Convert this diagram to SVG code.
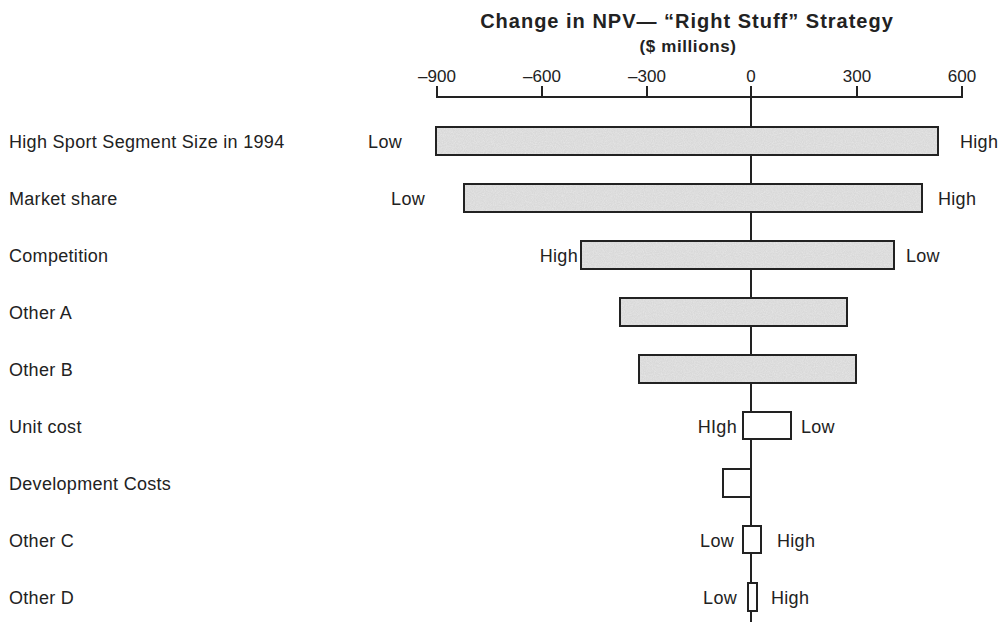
<svg xmlns="http://www.w3.org/2000/svg" width="1002" height="622" viewBox="0 0 1002 622">
  <style>
    .t { font-family: "Liberation Sans", Arial, sans-serif; fill: #222; }
    .title { font-size: 20px; font-weight: bold; letter-spacing: 1px; }
    .sub { font-size: 17px; font-weight: bold; letter-spacing: 0.6px; }
    .tick { font-size: 17px; }
    .lab { font-size: 18px; letter-spacing: 0.3px; }
    .axis { stroke: #222; stroke-width: 2; fill: none; }
    .bar { fill: #d9d9d9; filter: url(#grain); }
    .edge { fill: none; stroke: #222; stroke-width: 2; }
    .box { fill: #fff; stroke: #222; stroke-width: 2; }
  </style>
  <defs>
    <!-- fine screen-tone speckle for the shaded bars -->
    <filter id="grain" x="0" y="0" width="100%" height="100%">
      <feTurbulence type="fractalNoise" baseFrequency="0.9" numOctaves="2" seed="3" result="noise"/>
      <feColorMatrix in="noise" type="matrix"
        values="0 0 0 0 1  0 0 0 0 1  0 0 0 0 1  0 0 0 0.5 -0.15" result="speck"/>
      <feComposite in="speck" in2="SourceGraphic" operator="in" result="clip"/>
      <feMerge>
        <feMergeNode in="SourceGraphic"/>
        <feMergeNode in="clip"/>
      </feMerge>
    </filter>
  </defs>

  <!-- title -->
  <text class="t title" x="687" y="28" text-anchor="middle">Change in NPV— “Right Stuff” Strategy</text>
  <text class="t sub" x="688" y="52" text-anchor="middle">($ millions)</text>

  <!-- axis and ticks -->
  <g id="axis">
    <line class="axis" x1="437" y1="97" x2="962" y2="97"/>
    <line class="axis" x1="437" y1="86" x2="437" y2="98"/>
    <line class="axis" x1="542" y1="86" x2="542" y2="98"/>
    <line class="axis" x1="647" y1="86" x2="647" y2="98"/>
    <line class="axis" x1="751" y1="86" x2="751" y2="98"/>
    <line class="axis" x1="857" y1="86" x2="857" y2="98"/>
    <line class="axis" x1="962" y1="86" x2="962" y2="98"/>
    <text class="t tick" x="437" y="82" text-anchor="middle">–900</text>
    <text class="t tick" x="542" y="82" text-anchor="middle">–600</text>
    <text class="t tick" x="647" y="82" text-anchor="middle">–300</text>
    <text class="t tick" x="751" y="82" text-anchor="middle">0</text>
    <text class="t tick" x="857" y="82" text-anchor="middle">300</text>
    <text class="t tick" x="962" y="82" text-anchor="middle">600</text>
  </g>

  <!-- zero baseline -->
  <g id="connectors">
    <line class="axis" x1="751" y1="97" x2="751" y2="622"/>
  </g>

  <!-- row labels -->
  <g id="labels">
    <text class="t lab" x="9" y="148">High Sport Segment Size in 1994</text>
    <text class="t lab" x="9" y="205">Market share</text>
    <text class="t lab" x="9" y="262">Competition</text>
    <text class="t lab" x="9" y="319">Other A</text>
    <text class="t lab" x="9" y="376">Other B</text>
    <text class="t lab" x="9" y="433">Unit cost</text>
    <text class="t lab" x="9" y="490">Development Costs</text>
    <text class="t lab" x="9" y="547">Other C</text>
    <text class="t lab" x="9" y="604">Other D</text>
  </g>

  <g id="bar-segment-size">
    <rect class="bar" x="436" y="127" width="502" height="28"/>
    <rect class="edge" x="436" y="127" width="502" height="28"/>
    <text class="t lab" x="402" y="148" text-anchor="end">Low</text>
    <text class="t lab" x="960" y="148">High</text>
  </g>
  <g id="bar-market-share">
    <rect class="bar" x="464" y="184" width="458" height="28"/>
    <rect class="edge" x="464" y="184" width="458" height="28"/>
    <text class="t lab" x="425" y="205" text-anchor="end">Low</text>
    <text class="t lab" x="938" y="205">High</text>
  </g>
  <g id="bar-competition">
    <rect class="bar" x="581" y="241" width="313" height="28"/>
    <rect class="edge" x="581" y="241" width="313" height="28"/>
    <text class="t lab" x="578" y="262" text-anchor="end">High</text>
    <text class="t lab" x="906" y="262">Low</text>
  </g>
  <g id="bar-other-a">
    <rect class="bar" x="620" y="298" width="227" height="28"/>
    <rect class="edge" x="620" y="298" width="227" height="28"/>
  </g>
  <g id="bar-other-b">
    <rect class="bar" x="639" y="355" width="217" height="28"/>
    <rect class="edge" x="639" y="355" width="217" height="28"/>
  </g>
  <g id="bar-unit-cost">
    <rect class="box" x="743" y="412" width="48" height="27"/>
    <text class="t lab" x="737" y="433" text-anchor="end">HIgh</text>
    <text class="t lab" x="801" y="433">Low</text>
  </g>
  <g id="bar-development">
    <rect class="box" x="723" y="469" width="28" height="28"/>
  </g>
  <g id="bar-other-c">
    <rect class="box" x="743" y="526" width="18" height="27"/>
    <text class="t lab" x="734" y="547" text-anchor="end">Low</text>
    <text class="t lab" x="777" y="547">High</text>
  </g>
  <g id="bar-other-d">
    <rect class="box" x="748" y="583" width="9" height="28"/>
    <text class="t lab" x="737" y="604" text-anchor="end">Low</text>
    <text class="t lab" x="771" y="604">High</text>
  </g>
</svg>
